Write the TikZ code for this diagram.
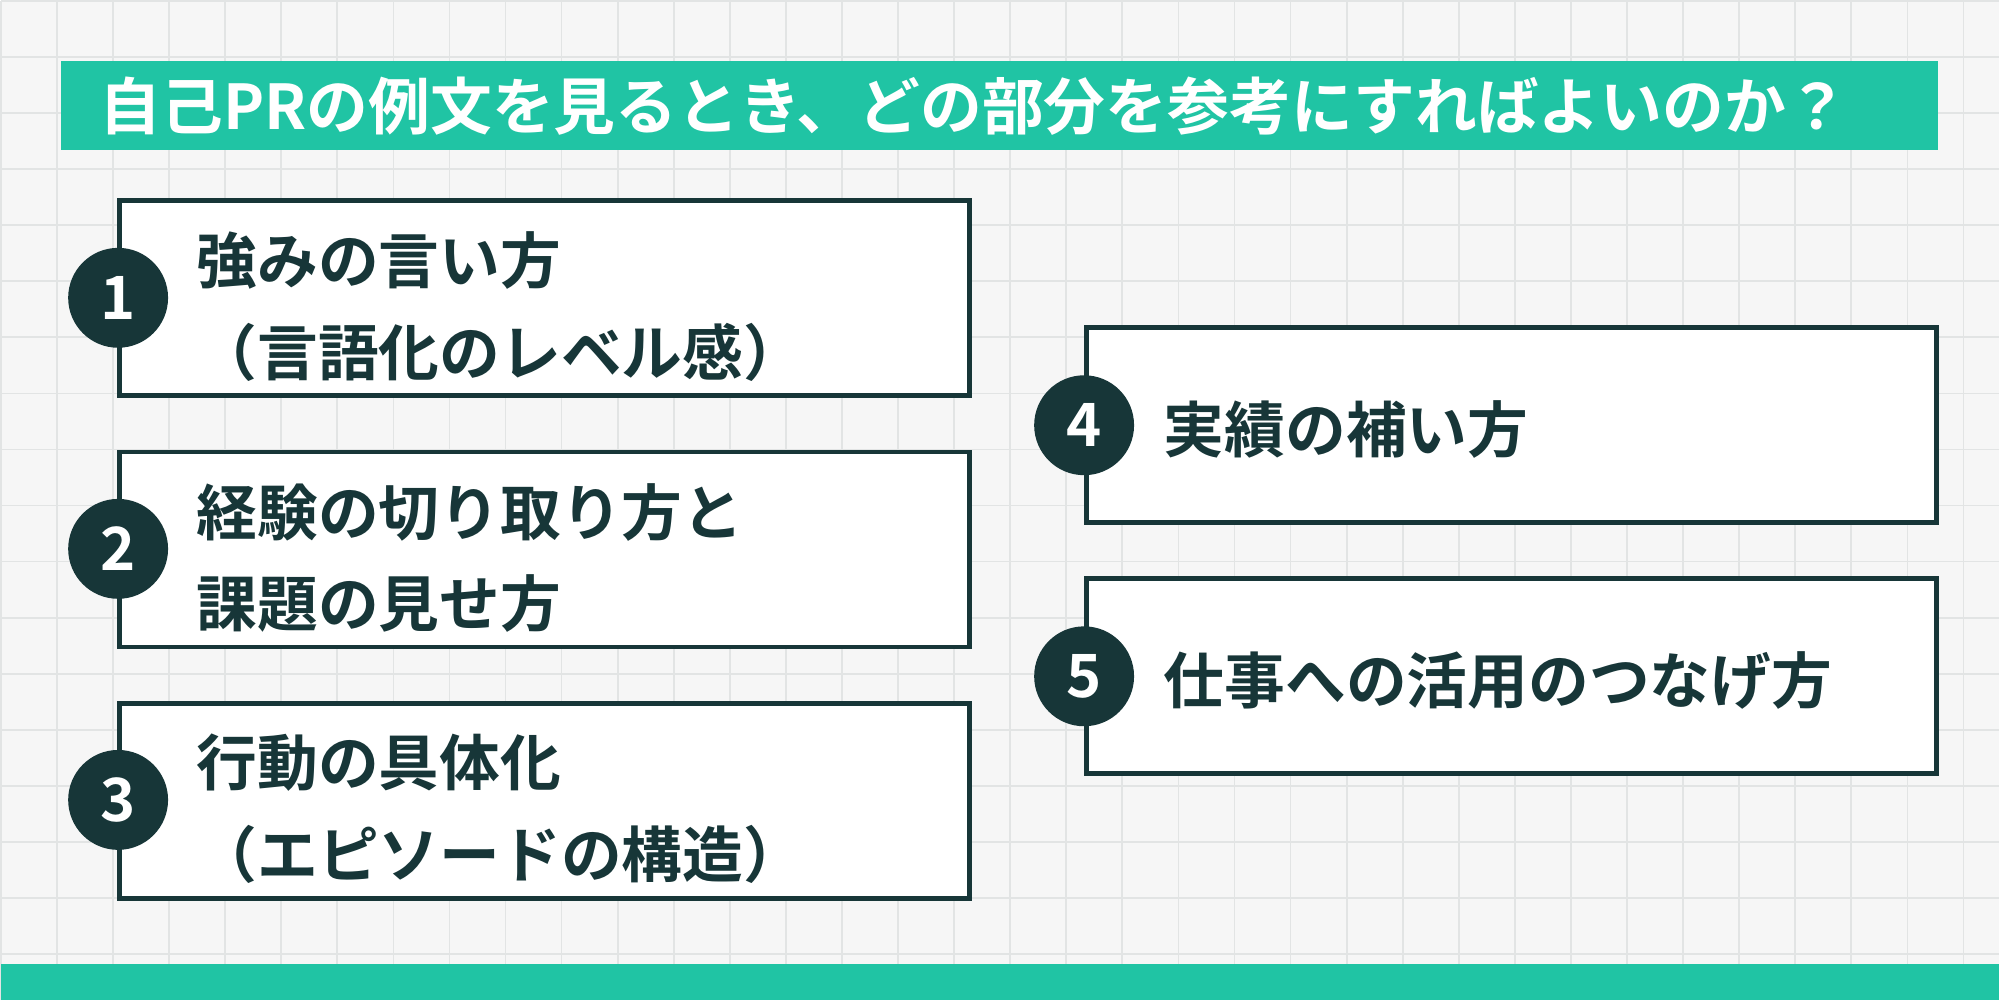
\documentclass[tikz,border=0pt]{standalone}
\usepackage{fontspec}
\newfontfamily\jpfont{Noto Sans CJK JP}[BoldFont={Noto Sans CJK JP Bold}]
\usetikzlibrary{positioning}
\definecolor{teal}{HTML}{20C4A4}
\definecolor{ink}{HTML}{173638}
\definecolor{paper}{HTML}{F6F6F6}
\definecolor{gridc}{HTML}{E2E4E4}

\begin{document}
\begin{tikzpicture}[x=0.012755cm,y=-0.012755cm,
  itembox/.style={draw=ink, line width=1.4pt, fill=white},
  numdot/.style={circle, fill=ink, minimum size=1cm, inner sep=0pt, text=white, font=\jpfont\bfseries\fontsize{17}{17}\selectfont},
  itemtext/.style={anchor=west, align=left, text=ink, inner sep=0pt, font=\jpfont\bfseries\fontsize{17.3}{26}\selectfont}]

%background
\fill[paper] (0,0) rectangle (1568,784);
\foreach \gx in {0,44,...,1568} \draw[gridc, line width=0.5pt] (\gx,0)--(\gx,784);
\foreach \gy in {0,44,...,784} \draw[gridc, line width=0.5pt] (0,\gy)--(1568,\gy);
\useasboundingbox (0,0) rectangle (1568,784);

%bars
\fill[teal] (47,47) rectangle (1520,117);
\fill[teal] (0,756) rectangle (1568,784);
\node[anchor=west, inner sep=0pt, text=white, font=\jpfont\bfseries\fontsize{17.6}{20}\selectfont] (title) at (77,83)
  {自己PRの例文を見るとき、どの部分を参考にすればよいのか？};

%boxes
\draw[itembox] (93,157) rectangle (760,310);
\draw[itembox] (93,354) rectangle (760,507);
\draw[itembox] (93,551) rectangle (760,704);
\draw[itembox] (852,256) rectangle (1519,409);
\draw[itembox] (852,453) rectangle (1519,606);

%numbers
\node[numdot] (n1) at (92,233) {1};
\node[numdot] (n2) at (92,430) {2};
\node[numdot] (n3) at (92,627) {3};
\node[numdot] (n4) at (850,333) {4};
\node[numdot] (n5) at (850,530) {5};

%labels
\node[itemtext] (t1) at (153,240) {強みの言い方\\（言語化のレベル感）};
\node[itemtext] (t2) at (153,437) {経験の切り取り方と\\課題の見せ方};
\node[itemtext] (t3) at (153,634) {行動の具体化\\（エピソードの構造）};
\node[itemtext] (t4) at (912,336) {実績の補い方};
\node[itemtext] (t5) at (912,533) {仕事への活用のつなげ方};

\end{tikzpicture}
\end{document}
